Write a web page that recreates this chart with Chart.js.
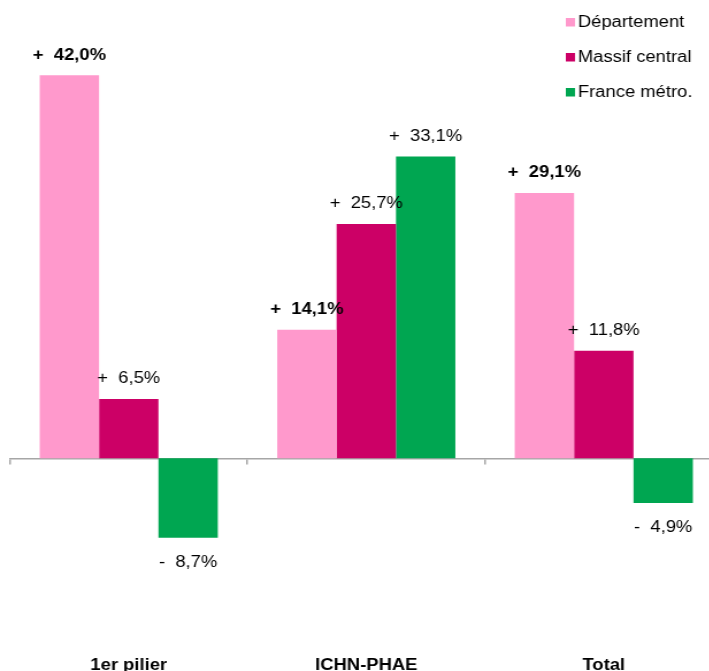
<!DOCTYPE html>
<html lang="fr">
<head>
<meta charset="utf-8">
<title>Évolution des aides</title>
<script src="https://cdn.jsdelivr.net/npm/chart.js@4/dist/chart.umd.min.js"></script>
<style>
    html, body { margin: 0; padding: 0; background: #fff; }
    #wrap { position: relative; width: 709px; height: 671px; overflow: hidden; }
    /* the source picture is stretched horizontally, so is the chart */
    #box { width: 630px; height: 690px; transform: scaleX(1.15); transform-origin: 0 0; }
</style>
</head>
<body>
<div id="wrap">
    <div id="box"><canvas id="aidesChart"></canvas></div>
</div>
<script>

const categories = ['1er pilier', 'ICHN-PHAE', 'Total'];
const seriesNames = ['Département', 'Massif central', 'France métro.'];
const departement = [42.0, 14.1, 29.1];
const massifCentral = [6.5, 25.7, 11.8];
const franceMetro = [-8.7, 33.1, -4.9];

const colors = {
    departement: '#FF99CC',
    massif: '#CC0066',
    france: '#00A651',
    axis: '#A6A6A6',
    text: '#000000'
};

const fontFamily = "'Liberation Sans', Arial, sans-serif";

function formatValue(v) {
    const sign = v < 0 ? '-' : '+';
    return sign + '  ' + Math.abs(v).toFixed(1).replace('.', ',') + '%';
}

// value labels above positive bars, below negative ones
const valueLabels = {
    id: 'valueLabels',
    afterDatasetsDraw(chart) {
        const ctx = chart.ctx;
        ctx.save();
        ctx.fillStyle = colors.text;
        ctx.textAlign = 'center';
        ctx.textBaseline = 'middle';
        chart.data.datasets.forEach((ds, i) => {
            const meta = chart.getDatasetMeta(i);
            ctx.font = (i === 0 ? 'bold ' : '') + '16px ' + fontFamily;
            meta.data.forEach((bar, j) => {
                const v = ds.data[j];
                const y = v >= 0 ? bar.y - 20 : bar.y + 25;
                ctx.fillText(formatValue(v), bar.x, y);
            });
        });
        ctx.restore();
    }
};

// legend in the top right corner, over the plot
const cornerLegend = {
    id: 'cornerLegend',
    afterDraw(chart) {
        const ctx = chart.ctx;
        ctx.save();
        ctx.font = '16px ' + fontFamily;
        ctx.textBaseline = 'middle';
        ctx.textAlign = 'left';
        chart.data.datasets.forEach((ds, i) => {
            const y = 22.5 + i * 35;
            ctx.fillStyle = ds.backgroundColor;
            ctx.fillRect(492, y - 4.5, 8, 8.5);
            ctx.fillStyle = colors.text;
            ctx.fillText(ds.label, 502.5, y);
        });
        ctx.restore();
    }
};

function initAidesChart() {
    const ctx = document.getElementById('aidesChart');
    if (!ctx) return;

    new Chart(ctx, {
        type: 'bar',
        data: {
            labels: categories,
            datasets: [
                { label: seriesNames[0], data: departement, backgroundColor: colors.departement },
                { label: seriesNames[1], data: massifCentral, backgroundColor: colors.massif },
                { label: seriesNames[2], data: franceMetro, backgroundColor: colors.france }
            ]
        },
        options: {
            responsive: true,
            maintainAspectRatio: false,
            animation: false,
            datasets: {
                bar: { categoryPercentage: 0.75, barPercentage: 1.0 }
            },
            layout: {
                padding: { top: 2.3, left: 8.7, right: 1.7, bottom: 0 }
            },
            plugins: {
                legend: { display: false },
                tooltip: { enabled: false }
            },
            scales: {
                x: {
                    position: 'bottom',
                    offset: true,
                    grid: { display: false, drawTicks: false },
                    border: { display: false },
                    ticks: {
                        padding: 15,
                        color: colors.text,
                        font: { family: fontFamily, size: 16, weight: 'bold' }
                    }
                },
                x2: {
                    type: 'category',
                    axis: 'x',
                    position: { y: 0 },
                    offset: true,
                    grid: {
                        offset: true,
                        drawOnChartArea: false,
                        drawTicks: true,
                        tickLength: 5,
                        color: colors.axis,
                        lineWidth: 1.5
                    },
                    border: { display: true, color: colors.axis, width: 1.5 },
                    ticks: { display: false }
                },
                y: {
                    display: false,
                    min: -20,
                    max: 50
                }
            }
        },
        plugins: [valueLabels, cornerLegend]
    });
}

initAidesChart();
</script>
</body>
</html>
